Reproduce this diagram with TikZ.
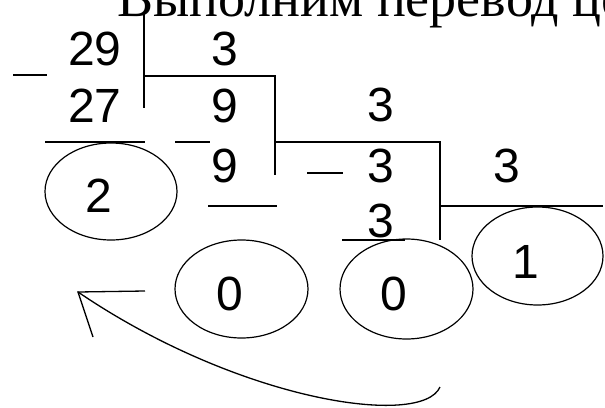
\documentclass[tikz,border=0pt]{standalone}
\usepackage{fontspec}
\setmainfont{Liberation Sans}
\newfontfamily\titlefont{Liberation Serif}
\usetikzlibrary{shapes.geometric}
\begin{document}
\begin{tikzpicture}[x=1pt,y=-1pt,
  num/.style={anchor=base,inner sep=0pt,font=\fontsize{48}{48}\selectfont},
  oval/.style={draw,ellipse,line width=1.2pt,inner sep=0pt},
  rule/.style={line width=1.3pt}]
\useasboundingbox (0,0) rectangle (605,407);
\clip (0,0) rectangle (605,407);
% title (cut off at the top)
\node[anchor=base west,inner sep=0pt,font=\titlefont\fontsize{54}{54}\selectfont] (title) at (117,16) {Выполним перевод цел};
% numbers
\node[num] (n29) at (95,65) {29};
\node[num] (d1) at (225,65) {3};
\node[num] (n27) at (95,122) {27};
\node[num] (q1) at (225,122) {9};
\node[num] (d2) at (381,121) {3};
\node[num] (n9) at (225,182) {9};
\node[num] (q2) at (381,182) {3};
\node[num] (d3) at (507,182) {3};
\node[num] (n3) at (381,237) {3};
% remainders
\node[oval,minimum width=132pt,minimum height=97pt] (e2) at (111,191.5) {};
\node[num] (r2) at (98.5,212) {2};
\node[oval,minimum width=133pt,minimum height=98pt] (e0a) at (241.5,289) {};
\node[num] (r0a) at (229.5,310) {0};
\node[oval,minimum width=133pt,minimum height=100pt] (e0b) at (406.5,289) {};
\node[num] (r0b) at (393.5,310) {0};
\node[oval,minimum width=131pt,minimum height=98pt] (e1) at (537.5,256) {};
\node[num] (r1) at (526,278) {1};
% division rules
\draw[rule] (144,12) -- (144,108);
\draw[rule] (144,76) -- (275,76) -- (275,175);
\draw[rule] (275,142) -- (440,142) -- (440,240);
\draw[rule] (440,206) -- (603,206);
% minus signs and underlines
\draw[rule] (13,75) -- (47,75);
\draw[rule] (45,142) -- (145,142);
\draw[rule] (175,142) -- (210,142);
\draw[rule] (307,173) -- (343,173);
\draw[rule] (208,206) -- (277,206);
\draw[rule] (342,240) -- (405,240);
% reading arrow
\coordinate (as) at (440,387);
\coordinate (at) at (78,292);
\draw[rule] (as) .. controls (422,428) and (240,402) .. (at);
\draw[rule] (145,291) -- (at) -- (93,337);
\end{tikzpicture}
\end{document}
